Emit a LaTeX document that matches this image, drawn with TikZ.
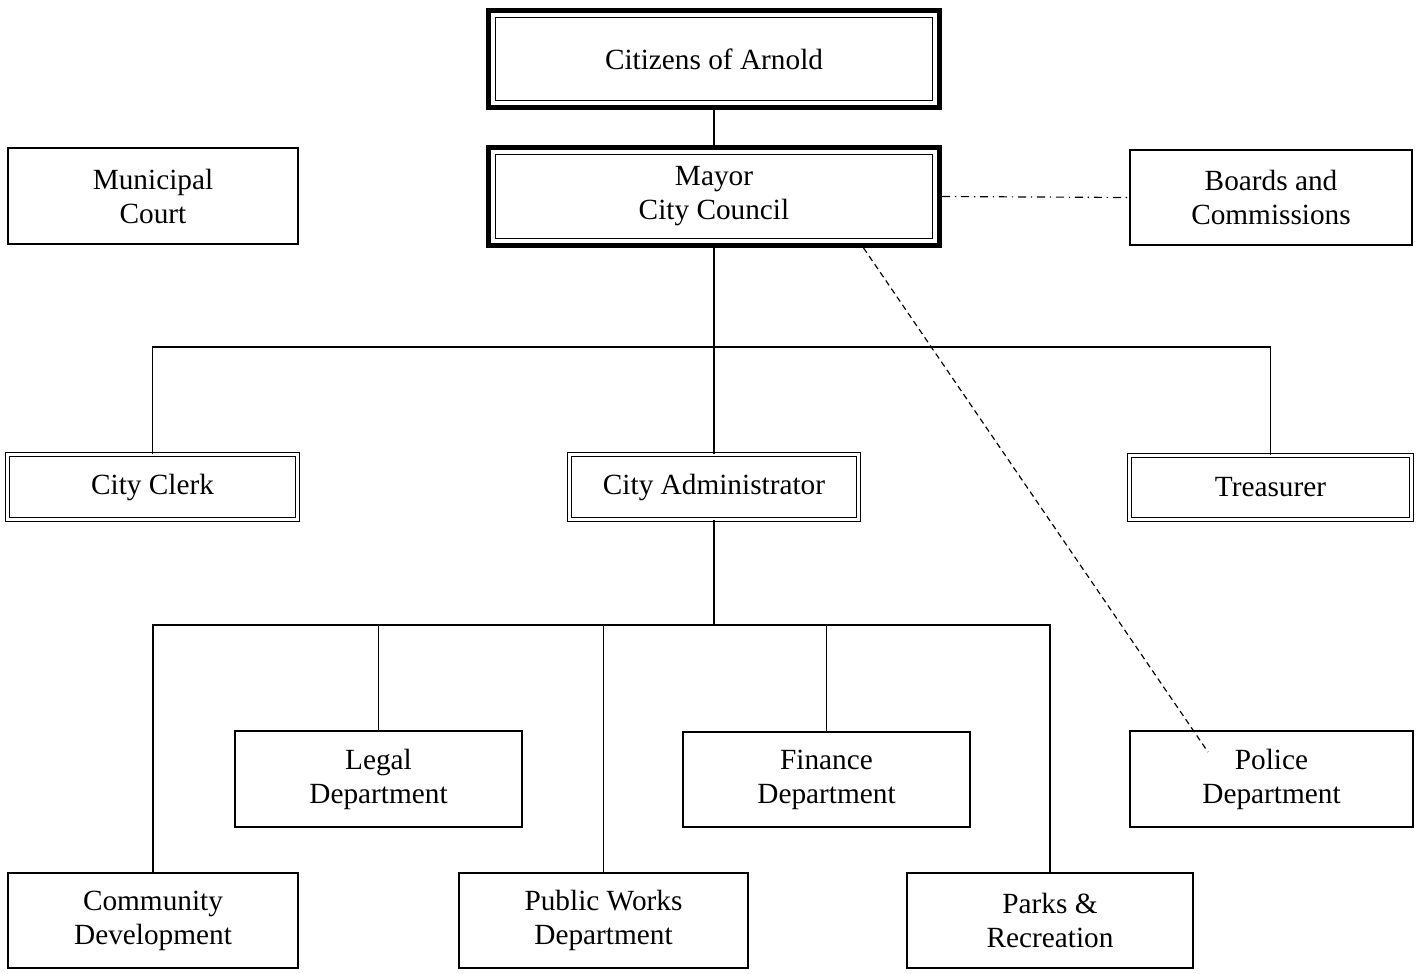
\documentclass[tikz,border=0pt]{standalone}
\usepackage{fontspec}
\setmainfont{Liberation Serif}
\usetikzlibrary{calc}

\begin{document}
\begin{tikzpicture}[x=0.015cm, y=-0.015cm,
  unit/.style={draw, line width=0.5pt, align=center, inner sep=2pt,
               font=\fontsize{12.5}{14.5}\selectfont},
  office/.style={unit, double, double distance=1.4pt, line width=0.45pt},
  top/.style={unit, line width=2.1pt,
              path picture={\draw[line width=0.5pt]
                ([shift={(3pt,-3pt)}]path picture bounding box.north west) rectangle
                ([shift={(-3pt,3pt)}]path picture bounding box.south east);}},
  wire/.style={line width=0.5pt}]
  \useasboundingbox (0,0) rectangle (1422,973);
  % top level
  \node[top, minimum width=6.765cm, minimum height=1.455cm] (cit) at (714,59) {Citizens of Arnold};
  \node[top, minimum width=6.765cm, minimum height=1.47cm] (may) at (714,196.5) {Mayor\\City Council};
  \node[unit, minimum width=4.35cm, minimum height=1.44cm] (court) at (153,196) {Municipal\\Court};
  \node[unit, minimum width=4.23cm, minimum height=1.425cm] (boards) at (1271,197.5) {Boards and\\Commissions};
  % officers
  \node[office, minimum width=4.35cm, minimum height=0.975cm] (clerk) at (152.5,487) {City Clerk};
  \node[office, minimum width=4.335cm, minimum height=0.975cm] (admin) at (714,487) {City Administrator};
  \node[office, minimum width=4.23cm, minimum height=0.96cm] (treas) at (1270.5,487.5) {Treasurer};
  % departments
  \node[unit, minimum width=4.305cm, minimum height=1.44cm] (legal) at (378.5,779) {Legal\\Department};
  \node[unit, minimum width=4.305cm, minimum height=1.425cm] (fin) at (826.5,779.5) {Finance\\Department};
  \node[unit, minimum width=4.245cm, minimum height=1.44cm] (police) at (1271.5,779) {Police\\Department};
  \node[unit, minimum width=4.35cm, minimum height=1.425cm] (comm) at (153,920.5) {Community\\Development};
  \node[unit, minimum width=4.335cm, minimum height=1.425cm] (works) at (603.5,920.5) {Public Works\\Department};
  \node[unit, minimum width=4.29cm, minimum height=1.425cm] (parks) at (1050,920.5) {Parks \&\\Recreation};

  \coordinate (busA) at (714,347);
  \coordinate (busB) at (714,625);
  \coordinate (polEnd) at (1208,752);

  \draw[wire] (cit) -- (may);
  \draw[wire] (may) -- (admin);
  \draw[wire] (clerk.north) |- (busA) -| (treas.north);
  \draw[wire] (admin) -- (busB);
  \draw[wire] (comm.north) |- (busB) -| (parks.north);
  \draw[wire] (legal.north) -- (legal.north |- busB);
  \draw[wire] (works.north) -- (works.north |- busB);
  \draw[wire] (fin.north) -- (fin.north |- busB);
  \draw[wire, dash pattern=on 3.5pt off 2pt on 0.6pt off 2pt] (may.east) -- (boards.west);
  \draw[wire, dash pattern=on 2.5pt off 1.7pt] ($(may.south west)!0.828!(may.south east)$) -- (polEnd);
\end{tikzpicture}
\end{document}
